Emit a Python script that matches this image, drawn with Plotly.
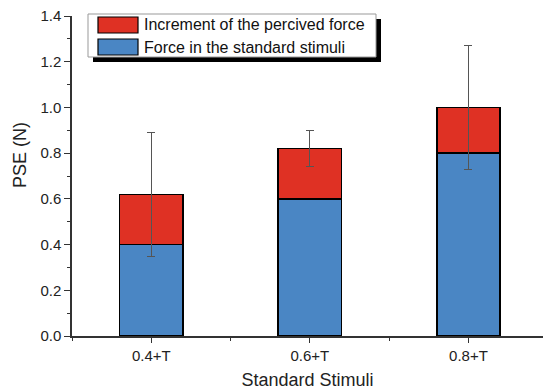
import plotly.graph_objects as go

categories = ["0.4+T", "0.6+T", "0.8+T"]
standard_force = [0.4, 0.6, 0.8]
increment = [0.22, 0.22, 0.2]
error = [0.27, 0.08, 0.272]
legend_labels = ["Increment of the percived force", "Force in the standard stimuli"]
y_ticks = [0.0, 0.2, 0.4, 0.6, 0.8, 1.0, 1.2, 1.4]

RED = "#DF3124"
BLUE = "#4A86C4"
FONT = "Liberation Sans, Arial, sans-serif"

x = list(range(len(categories)))

fig = go.Figure()
fig.add_trace(go.Bar(x=x, y=standard_force, width=0.4, marker=dict(color=BLUE, line=dict(color="black", width=1.5)),
                     name=legend_labels[1], showlegend=False))
fig.add_trace(go.Bar(x=x, y=increment, width=0.4, marker=dict(color=RED, line=dict(color="black", width=1.5)),
                     name=legend_labels[0], showlegend=False,
                     error_y=dict(type="data", array=error, visible=True, color="#555555", thickness=1, width=4)))

fig.update_layout(
    barmode="stack",
    width=543, height=390,
    margin=dict(l=72, r=0, t=16, b=54),
    plot_bgcolor="white", paper_bgcolor="white",
    font=dict(family=FONT, size=15, color="#222222"),
    xaxis=dict(range=[-0.5, 2.47], tickvals=x, ticktext=categories, showgrid=False, zeroline=False,
               showline=True, linecolor="#333333", linewidth=1.5, ticks="outside", ticklen=5, tickcolor="#333333",
               tickfont=dict(size=15),
               minor=dict(tick0=0.5, dtick=1, ticks="outside", ticklen=3, tickcolor="#333333"),
               title=dict(text="Standard Stimuli", font=dict(size=18), standoff=12)),
    yaxis=dict(range=[0, 1.4], tickvals=y_ticks, tickformat=".1f", showgrid=False, zeroline=False,
               showline=True, linecolor="#333333", linewidth=1.5, ticks="outside", ticklen=6, tickcolor="#333333",
               tickfont=dict(size=15),
               minor=dict(dtick=0.1, ticks="outside", ticklen=3, tickcolor="#333333")),
)

def px2paper_x(px):
    return (px - 72) / (543 - 72)

def px2paper_y(py):
    return (336 - py) / 320

# y-axis title (placed slightly above plot centre, as in the reference)
fig.add_annotation(xref="paper", yref="paper", x=px2paper_x(20), y=px2paper_y(155), text="PSE (N)",
                   textangle=-90, showarrow=False, xanchor="center", yanchor="middle",
                   font=dict(size=18, color="#222222", family=FONT))

# custom legend (box with shadow)
shapes = []
shapes.append(dict(type="rect", xref="paper", yref="paper", x0=px2paper_x(93), x1=px2paper_x(381),
                   y0=px2paper_y(62), y1=px2paper_y(19), fillcolor="black", line=dict(width=0), layer="above"))
shapes.append(dict(type="rect", xref="paper", yref="paper", x0=px2paper_x(88), x1=px2paper_x(376),
                   y0=px2paper_y(57), y1=px2paper_y(14), fillcolor="white", line=dict(color="#999999", width=1), layer="above"))
swatch_colors = [RED, BLUE]
swatch_y = [(17, 33), (39, 55)]
for c, (ya, yb), lab in zip(swatch_colors, swatch_y, legend_labels):
    shapes.append(dict(type="rect", xref="paper", yref="paper", x0=px2paper_x(98), x1=px2paper_x(138),
                       y0=px2paper_y(yb), y1=px2paper_y(ya), fillcolor=c, line=dict(color="black", width=1.2), layer="above"))
    fig.add_annotation(xref="paper", yref="paper", x=px2paper_x(142), y=px2paper_y((ya + yb) / 2),
                       text=lab, showarrow=False, xanchor="left", yanchor="middle",
                       font=dict(size=16, color="#111111", family=FONT))
fig.update_layout(shapes=shapes)

fig.write_html("out.html")
